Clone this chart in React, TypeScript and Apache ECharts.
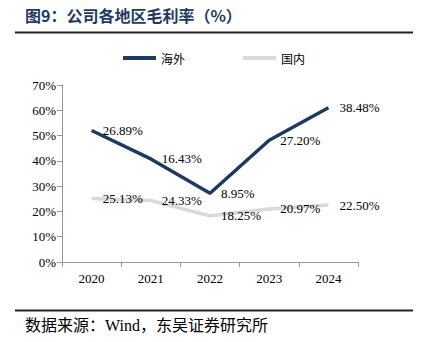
import React, { useEffect, useRef } from "react";
import * as echarts from "echarts";

const years = ["2020", "2021", "2022", "2023", "2024"];
const overseas = [26.89, 16.43, 8.95, 27.2, 38.48];
const domestic = [25.13, 24.33, 18.25, 20.97, 22.5];
const yTicks = { min: 0, max: 70, interval: 10 };

const SERIF = "Liberation Serif";

export default function App() {
  const ref = useRef<HTMLDivElement>(null);
  useEffect(() => {
    const chart = echarts.init(ref.current!, null, { renderer: "svg" });
    const label = {
      show: true,
      position: "right" as const,
      distance: 11,
      fontFamily: SERIF,
      fontSize: 13,
      color: "#000",
      formatter: (p: any) => Number(p.value).toFixed(2) + "%",
    };
    chart.setOption({
      animation: false,
      graphic: [
        {
          type: "text",
          left: 25,
          top: 7,
          style: {
            text: "图9：公司各地区毛利率（%）",
            fontFamily: "Noto Sans CJK SC",
            fontWeight: "bold",
            fontSize: 16,
            fill: "#1F3A60",
          },
        },
        {
          type: "line",
          shape: { x1: 15, y1: 32.5, x2: 413, y2: 32.5 },
          style: { stroke: "#222", lineWidth: 2 },
        },
        {
          type: "line",
          shape: { x1: 15, y1: 310.5, x2: 413, y2: 310.5 },
          style: { stroke: "#222", lineWidth: 2 },
        },
        {
          type: "text",
          left: 25,
          top: 317,
          style: {
            text: "数据来源：Wind，东吴证券研究所",
            fontFamily: "Liberation Serif, Noto Sans CJK SC",
            fontSize: 16,
            fill: "#000",
          },
        },
      ],
      legend: {
        data: ["海外", "国内"],
        left: 118,
        top: 47,
        icon: "rect",
        itemWidth: 33,
        itemHeight: 4,
        itemGap: 58,
        textStyle: { fontFamily: "Noto Sans CJK SC", fontSize: 12, color: "#000" },
      },
      grid: { left: 62, right: 65, top: 85, bottom: 80 },
      xAxis: {
        type: "category",
        data: years,
        boundaryGap: true,
        axisLine: { lineStyle: { color: "#999" } },
        axisTick: { show: true, length: 5, lineStyle: { color: "#999" } },
        axisLabel: { fontFamily: SERIF, fontSize: 13, color: "#000", margin: 10 },
      },
      yAxis: {
        type: "value",
        min: yTicks.min,
        max: yTicks.max,
        interval: yTicks.interval,
        splitLine: { show: false },
        axisLine: { show: true, lineStyle: { color: "#999" } },
        axisTick: { show: true, length: 5, lineStyle: { color: "#999" } },
        axisLabel: {
          fontFamily: SERIF,
          fontSize: 13,
          color: "#000",
          margin: 6,
          formatter: "{value}%",
        },
      },
      series: [
        {
          name: "国内",
          type: "line",
          stack: "total",
          data: domestic,
          symbol: "circle",
          symbolSize: 0.1,
          showSymbol: true,
          lineStyle: { color: "#D9D9D9", width: 3.5 },
          itemStyle: { color: "#D9D9D9" },
          label,
          z: 2,
        },
        {
          name: "海外",
          type: "line",
          stack: "total",
          data: overseas,
          symbol: "circle",
          symbolSize: 0.1,
          showSymbol: true,
          lineStyle: { color: "#1F3A60", width: 3.5 },
          itemStyle: { color: "#1F3A60" },
          label,
          z: 3,
        },
      ],
    });
    return () => chart.dispose();
  }, []);
  return <div ref={ref} style={{ width: 423, height: 342, margin: -8 }} />;
}
